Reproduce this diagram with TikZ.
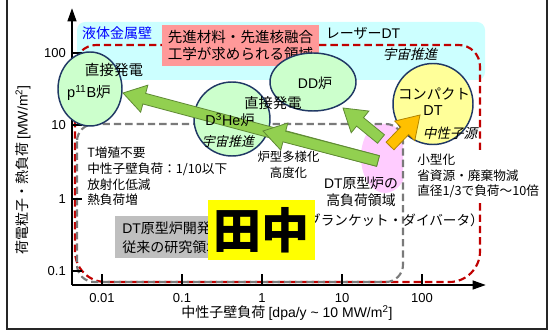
\documentclass[tikz,border=0pt]{standalone}
\usepackage{fontspec}
\setmainfont{Noto Sans CJK JP}
\newfontfamily\lib{Liberation Sans}
\newfontfamily\jpit[FakeSlant=0.22]{Noto Sans CJK JP}
\usetikzlibrary{calc,arrows.meta,shapes.geometric}
\definecolor{cCyan}{HTML}{CCFFFF}
\definecolor{cPinkBox}{HTML}{FF9999}
\definecolor{cRed}{HTML}{C00000}
\definecolor{cGray}{HTML}{7A7A7A}
\definecolor{cEllFill}{HTML}{CCFFCC}
\definecolor{cEllEdge}{HTML}{203864}
\definecolor{cYelEll}{HTML}{FFFF99}
\definecolor{cGreen}{HTML}{92D050}
\definecolor{cGreenEdge}{HTML}{5F8A34}
\definecolor{cOrange}{HTML}{FFC000}
\definecolor{cOrangeEdge}{HTML}{B08400}
\definecolor{cPinkBlob}{HTML}{FFCCFF}
\definecolor{cGrayBox}{HTML}{BFBFBF}
\definecolor{cYelBox}{HTML}{FFFF00}
\definecolor{cBlue}{HTML}{0000FF}
\newcommand\myfatarrow[3]{%
  \coordinate (fab) at ($(#3)!16.5pt!(#2)$);
  \draw[#1] ($(#2)!4.1pt!90:(#3)$) -- ($(fab)!4.1pt!90:(#3)$) -- ($(fab)!10.5pt!90:(#3)$) -- (#3) -- ($(fab)!10.5pt!-90:(#3)$) -- ($(fab)!4.1pt!-90:(#3)$) -- ($(#2)!4.1pt!-90:(#3)$) -- cycle;}
\begin{document}
\begin{tikzpicture}[x=0.75pt,y=-0.75pt,
  redline/.style={draw=cRed, line width=1.6pt, dash pattern=on 5.5pt off 3pt},
  grayline/.style={draw=cGray, line width=1.6pt, dash pattern=on 5.5pt off 3pt},
  axisline/.style={line width=1.7pt, black},
  tickline/.style={line width=1.2pt, black},
  ticklab/.style={font=\lib\fontsize{9.75pt}{11pt}\selectfont, inner sep=0pt},
  ell/.style={ellipse, draw=cEllEdge, line width=1.1pt, fill=cEllFill, inner sep=0pt},
  fatg/.style={fill=cGreen, draw=cGreenEdge, line width=0.6pt, line join=miter},
  fato/.style={fill=cOrange, draw=cOrangeEdge, line width=0.6pt, line join=miter},
  txt/.style={inner sep=0pt, font=\fontsize{10.5pt}{12.6pt}\selectfont},
  small/.style={inner sep=0pt, align=left, font=\fontsize{9.5pt}{11.8pt}\selectfont},
  ital/.style={inner sep=0pt, font=\jpit\fontsize{10.2pt}{12pt}\selectfont}]
\useasboundingbox (0,0) rectangle (549,331);
% outer frame
\draw[line width=1.4pt, black!85] (7,-3) -- (7,329) -- (547,329) -- (547,-3);
% cyan region
\fill[cCyan, rounded corners=6pt] (77,22) rectangle (485,80);
% pink blob
\begin{scope}
  \clip[rounded corners=13pt] (77,124) rectangle (403,282);
  \fill[cPinkBlob] (385,157) ellipse [x radius=18pt, y radius=27pt];
\end{scope}
% dashed regions
\draw[redline] (480,150) [rounded corners=16pt] -- (480,45) -- (75,45) [rounded corners=23pt] -- (75,282) -- (480,282) -- (480,203);
\draw[grayline, rounded corners=13pt] (77,124) rectangle (403,282);
% pink box
\node[fill=cPinkBox, minimum width=117.75pt, minimum height=30.75pt, inner sep=0pt, align=center,
      font=\fontsize{10.9pt}{12.75pt}\selectfont] (adv) at (240.5,45.5) {先進材料・先進核融合\\工学が求められる領域};
% axes
\coordinate (O) at (72,285);
\coordinate (Ytop) at (72,8);
\coordinate (Xend) at (486,285);
\draw[axisline, -{Triangle[width=6.5pt,length=10pt]}] (O) -- (Ytop);
\draw[axisline, -{Triangle[width=6.5pt,length=10pt]}] (O) -- (Xend);
\foreach \y/\t in {53/100,125/10,199/1,271/0.1} {
  \draw[tickline] (72,\y) -- (82,\y);
  \node[ticklab, anchor=east] at (66,\y) {\t};
}
\foreach \x/\t in {102/0.01,182/0.1,262/1,342/10,422/100} {
  \draw[tickline] (\x,285) -- (\x,274);
  \node[ticklab] at (\x,298) {\t};
}
\node[txt] (xt) at (287,313) {中性子壁負荷 {\lib [dpa/y \textasciitilde{} 10 MW/m\textsuperscript{2}]}};
\node[txt, rotate=90] (yt) at (23,170) {荷電粒子・熱負荷 {\lib [MW/m\textsuperscript{2}]}};
% labels
\node[txt, text=cBlue] (lm) at (117,33) {液体金属壁};
\node[txt] (laser) at (363,33) {レーザー{\lib DT}};
\node[ital] (space1) at (410,54) {宇宙推進};
\node[small, anchor=west] (tblock) at (87,176.5) {T増殖不要\\中性子壁負荷：1/10以下\\放射化低減\\熱負荷増};
\node[small, align=center, font=\fontsize{9.3pt}{12pt}\selectfont] (div) at (288.5,165) {炉型多様化\\高度化};
\node[inner sep=0pt, align=center, font=\fontsize{10.4pt}{12.75pt}\selectfont] (hl) at (361,191.5) {{\lib DT}原型炉の\\高負荷領域};
\node[small, anchor=west, font=\fontsize{9.5pt}{11.6pt}\selectfont] (cblock) at (417,176) {小型化\\省資源・廃棄物減\\直径1/3で負荷～10倍};
% ellipses
\node[ell, minimum width=48pt, minimum height=55.5pt] (pb) at (90,89) {};
\node[ell, minimum width=57pt, minimum height=55.5pt] (dhe) at (232,119) {};
\node[ell, minimum width=64.5pt, minimum height=43.5pt] (dd) at (313,82) {};
\node[ell, fill=cYelEll, minimum width=60pt, minimum height=60.75pt] (cdt) at (433,104) {};
% fat arrows
\coordinate (tA) at (378,161);
\coordinate (hA) at (123,93);
\coordinate (hB) at (263,131);
\coordinate (tC) at (381,139);
\coordinate (hC) at (343,108);
\coordinate (tD) at (390,146);
\coordinate (hD) at (420,115);
\myfatarrow{fatg}{tA}{hA}
\myfatarrow{fatg}{tA}{hB}
\myfatarrow{fatg}{tC}{hC}
\myfatarrow{fato}{tD}{hD}
% ellipse texts
\node[txt, font=\fontsize{10.9pt}{12pt}\selectfont] (pb1) at (114,70) {直接発電};
\node[txt, font=\fontsize{10.9pt}{12pt}\selectfont] (pb2) at (89,93) {{\lib p\textsuperscript{11}B}炉};
\node[txt, font=\fontsize{10.7pt}{12pt}\selectfont] (dhe1) at (273,103) {直接発電};
\node[txt, font=\fontsize{10.7pt}{12pt}\selectfont] (dhe2) at (230,120) {{\lib D\textsuperscript{3}He}炉};
\node[ital, font=\jpit\fontsize{9.8pt}{12pt}\selectfont] (dhe3) at (228,142) {宇宙推進};
\node[txt] (dd1) at (315,83) {{\lib DD}炉};
\node[txt, font=\fontsize{10.8pt}{12pt}\selectfont] (cdt1) at (434,94) {コンパクト};
\node[txt, font=\lib\fontsize{10.8pt}{12pt}\selectfont] (cdt2) at (433,111) {DT};
\node[ital] (cdt3) at (450,133) {中性子源};
% blanket text
\node[txt, anchor=east, font=\fontsize{10.2pt}{12pt}\selectfont] (blk) at (484,220) {（ブランケット・ダイバータ）};
% gray box
\node[fill=cGrayBox, anchor=north west, minimum height=31.5pt, text width=90.75pt, inner xsep=5.25pt, inner ysep=0pt,
      align=left, font=\fontsize{10.5pt}{14.2pt}\selectfont] (conv) at (115,216) {{\lib DT}原型炉開発の\\従来の研究領域};
% yellow box
\node[fill=cYelBox, minimum width=80.25pt, minimum height=45pt, inner sep=0pt,
      font=\bfseries\fontsize{36pt}{40pt}\selectfont] (name) at (261.5,230) {田中};
\end{tikzpicture}
\end{document}
